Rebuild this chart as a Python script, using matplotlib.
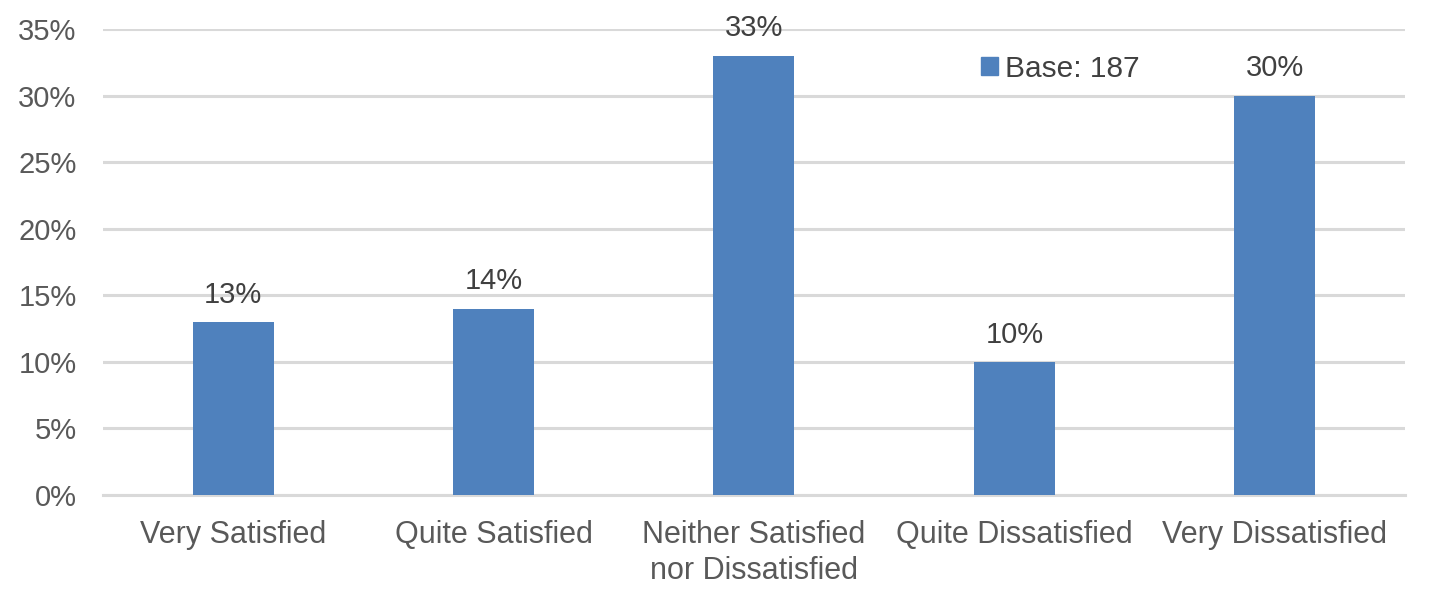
import numpy as np
import matplotlib.pyplot as plt
from matplotlib.patches import Patch

categories = ["Very Satisfied", "Quite Satisfied", "Neither Satisfied\nnor Dissatisfied",
              "Quite Dissatisfied", "Very Dissatisfied"]
values = [13, 14, 33, 10, 30]
yticks = [0, 5, 10, 15, 20, 25, 30, 35]

plt.rcParams['font.family'] = ['Liberation Sans', 'DejaVu Sans']

fig = plt.figure(figsize=(14.3, 5.98), dpi=100)
ax = fig.add_axes([0.0720, 0.1722, 0.9105, 0.7793])

x = np.arange(len(categories))
ax.bar(x, values, width=0.311, color="#4F81BD", zorder=3)

for xi, v in zip(x, values):
    ax.text(xi, v + 1.0, f"{v}%", ha="center", va="bottom", fontsize=21, color="#404040")

ax.set_xlim(-0.5, len(categories) - 0.5)
ax.set_ylim(0, 35)
ax.set_yticks(yticks)
ax.set_yticklabels([f"{t}%" for t in yticks])
ax.set_xticks(x)
ax.set_xticklabels(categories, linespacing=1.25)
ax.tick_params(axis="both", length=0, labelsize=21, colors="#595959")
ax.tick_params(axis="x", pad=18, labelsize=22)
ax.tick_params(axis="y", pad=19)
ax.yaxis.grid(True, color="#D9D9D9", linewidth=2.2, zorder=0)
for s in ["top", "right", "left"]:
    ax.spines[s].set_visible(False)
ax.spines["bottom"].set_color("#D9D9D9")
ax.spines["bottom"].set_linewidth(2.2)

leg = ax.legend(handles=[Patch(color="#4F81BD", label="Base: 187")], loc="center left",
                bbox_to_anchor=(0.674, 0.915), frameon=False, fontsize=21.5,
                handlelength=0.57, handleheight=0.57, handletextpad=0.25,
                borderpad=0, borderaxespad=0)
for t in leg.get_texts():
    t.set_color("#404040")

fig.savefig("out.png", dpi=100)
